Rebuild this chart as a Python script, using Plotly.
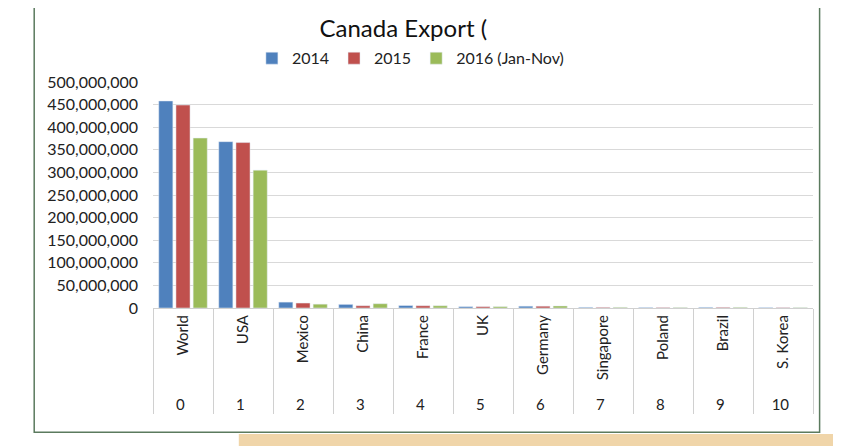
import plotly.graph_objects as go

# Canada export values
countries = ["World", "USA", "Mexico", "China", "France", "UK", "Germany",
             "Singapore", "Poland", "Brazil", "S. Korea"]
ranks = ["0", "1", "2", "3", "4", "5", "6", "7", "8", "9", "10"]

exp_2014 = [458e6, 368e6, 13e6, 8e6, 5.5e6, 3e6, 4e6, 1.5e6, 1.2e6, 1.5e6, 1.0e6]
exp_2015 = [449e6, 366e6, 11e6, 5e6, 5.0e6, 3e6, 4e6, 1.5e6, 1.2e6, 1.5e6, 1.0e6]
exp_2016 = [376e6, 305e6, 8.5e6, 9.5e6, 5.0e6, 3e6, 4.5e6, 1.5e6, 1.2e6, 1.5e6, 1.0e6]

x = [ranks, countries]

fig = go.Figure()
fig.add_trace(go.Bar(x=x, y=exp_2014, name="2014", marker_color="#4F81BD"))
fig.add_trace(go.Bar(x=x, y=exp_2015, name="2015", marker_color="#C0504D"))
fig.add_trace(go.Bar(x=x, y=exp_2016, name="2016 (Jan-Nov)", marker_color="#9BBB59"))

# backdrop: chart card border and the tan slide area below it
fig.add_shape(type="rect", xref="paper", yref="paper", x0=-0.18, x1=1.01, y0=-0.55, y1=1.4,
              line=dict(color="#5B7A5E", width=1.5), fillcolor="rgba(0,0,0,0)", layer="below")
fig.add_shape(type="rect", xref="paper", yref="paper", x0=0.13, x1=1.06, y0=-0.7, y1=-0.557,
              line=dict(width=0), fillcolor="#F0D5A9", layer="below")

fig.update_layout(
    width=841, height=446,
    margin=dict(l=145, r=36, t=74, b=146),
    font=dict(family="Lato, Open Sans, sans-serif", size=15, color="#222222"),
    title=dict(text="Canada Export (", x=0.47, xanchor="center", y=0.972, yanchor="top",
               yref="container", font=dict(size=24, color="#111111")),
    barmode="group", bargap=0.14, bargroupgap=0.18,
    legend=dict(orientation="h", x=0.39, xanchor="center", y=1.105, yanchor="middle",
                font=dict(size=16), itemwidth=30, traceorder="normal"),
    plot_bgcolor="white", paper_bgcolor="white",
)
fig.update_yaxes(range=[0, 500e6], dtick=50e6, tickformat=",", showgrid=True,
                 gridcolor="#D9D9D9", gridwidth=1, zeroline=False, showline=False,
                 ticks="", ticklabelstandoff=14, tickfont=dict(size=16))
fig.update_xaxes(type="multicategory", tickangle=-90, showline=True, linecolor="#D0D0D0",
                 linewidth=1, showdividers=True, dividercolor="#D0D0D0", dividerwidth=1,
                 tickfont=dict(size=15), ticks="")

fig.write_html("out.html")
